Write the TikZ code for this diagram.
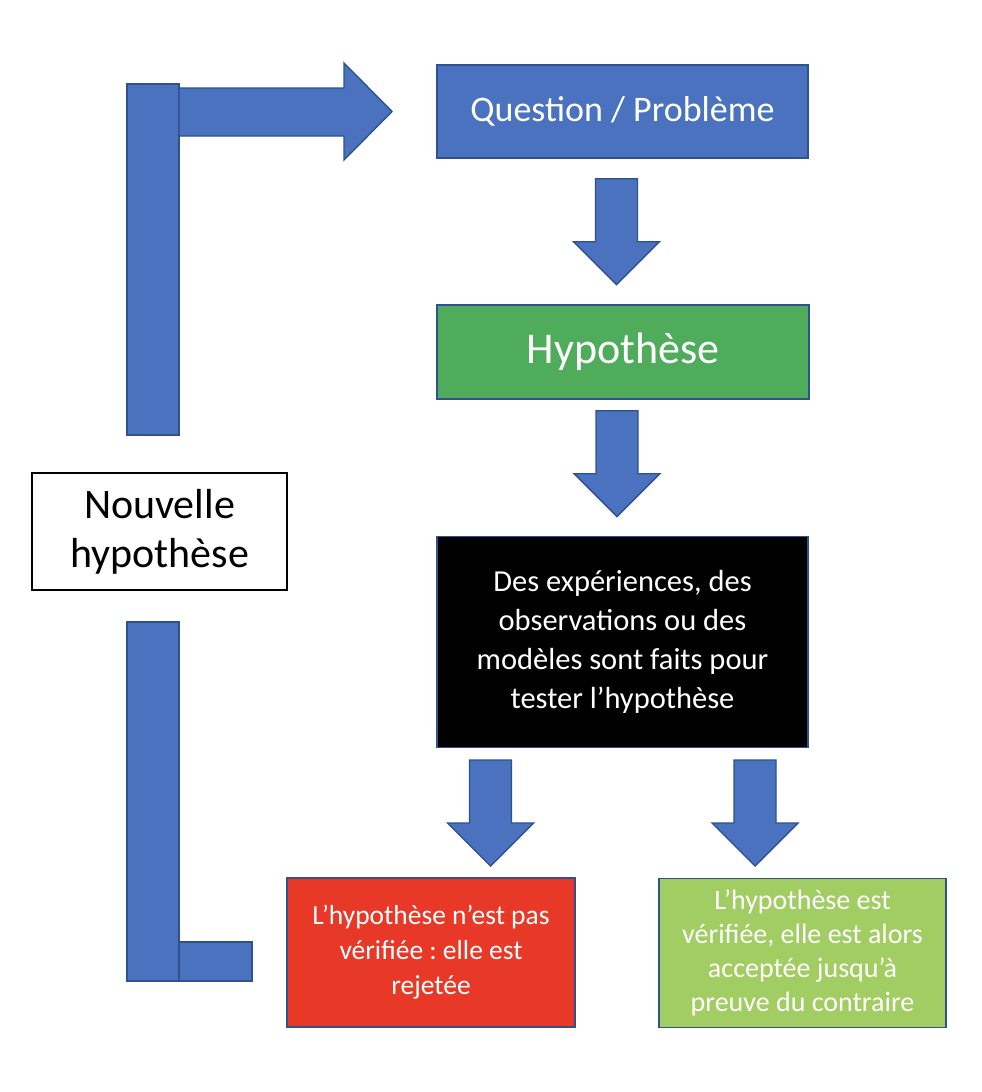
\documentclass[tikz,border=0pt]{standalone}
\usepackage{fontspec}
\setmainfont{Carlito}
\frenchspacing
\usepackage{tikz}
\usetikzlibrary{calc}
\definecolor{SMBlue}{HTML}{4A72BE}
\definecolor{SMEdge}{HTML}{2F528F}
\definecolor{SMGreen}{HTML}{4EAC5B}
\definecolor{SMRed}{HTML}{E83828}
\definecolor{SMLime}{HTML}{A2CD63}
\tikzset{
  stepcard/.style={draw=SMEdge,line width=1.4pt,text=white,align=center,inner sep=0pt},
  blockfill/.style={fill=SMBlue,draw=SMEdge,line width=1.4pt,line join=miter},
  downblock/.pic={\draw[blockfill] (-21,0) -- (21,0) -- (21,63) -- (43,63) -- (0,106)
                     -- (-43,63) -- (-21,63) -- cycle;},
}

\begin{document}
\begin{tikzpicture}[x=1pt,y=-1pt]
    \useasboundingbox (0,0) rectangle (982,1092);

    % main column
    \node[stepcard,fill=SMBlue,minimum width=371pt,minimum height=93pt,
          font=\fontsize{36}{43}\selectfont] (question) at (622.5,111.5) {Question / Problème};
    \node[stepcard,fill=SMGreen,minimum width=372pt,minimum height=94pt,
          font=\fontsize{44}{53}\selectfont] (hypo) at (623,352) {Hypothèse};
    \node[stepcard,fill=black,minimum width=371pt,minimum height=211pt,
          font=\fontsize{30.5}{39}\selectfont] (tests) at (622.5,642)
      {Des expériences, des\\observations ou des\\modèles sont faits pour\\tester l’hypothèse};
    \node[stepcard,fill=SMRed,minimum width=288pt,minimum height=149pt,
          font=\fontsize{27.5}{35}\selectfont] (rejet) at (431,952.5)
      {L’hypothèse n’est pas\\vérifiée : elle est\\rejetée};
    \node[stepcard,fill=SMLime,minimum width=287pt,minimum height=149pt,
          font=\fontsize{28}{34}\selectfont] (accept) at (802.5,953)
      {L’hypothèse est\\vérifiée, elle est alors\\acceptée jusqu’à\\preuve du contraire};
    \node[draw=black,line width=1.4pt,align=center,inner sep=0pt,minimum width=255pt,
          minimum height=117pt,font=\fontsize{42}{49}\selectfont] (nouvelle) at (159.5,531.5)
      {Nouvelle\\hypothèse};

    % block arrows
    \pic at ($(question.south)+(-6,20)$) {downblock};
    \pic at ($(hypo.south)+(-6,11)$) {downblock};
    \pic at (490.5,760) {downblock};
    \pic at (755,760) {downblock};

    % return loop
    \draw[blockfill] (127,622) rectangle (179,981);
    \draw[blockfill] (179,942) rectangle (252,981);
    \draw[blockfill] (127,84) rectangle (179,435);
    \draw[blockfill] (179,88) -- (344,88) -- (344,63) -- (392,111.5) -- (344,160)
                     -- (344,136) -- (179,136) -- cycle;
\end{tikzpicture}
\end{document}
